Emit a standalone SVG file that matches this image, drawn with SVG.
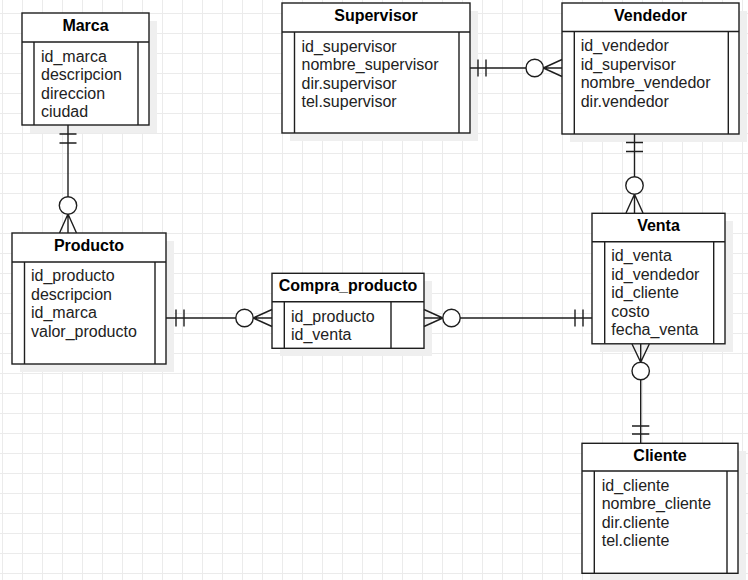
<svg xmlns="http://www.w3.org/2000/svg" width="748" height="580" viewBox="0 0 748 580">
<style>
.box{fill:#fff;stroke:#1e1e1e;stroke-width:1.4}
.ln{fill:none;stroke:#1e1e1e;stroke-width:1.4}
.sh{fill:#efefef}
.t{font-family:"Liberation Sans",Arial,sans-serif;font-size:16px;font-weight:bold;fill:#000;text-anchor:middle}
.a{font-family:"Liberation Sans",Arial,sans-serif;font-size:16px;fill:#222}
.c{fill:#fff;stroke:#1e1e1e;stroke-width:1.4}
</style>
<defs>
<pattern id="grid" x="2" y="13" width="20" height="20" patternUnits="userSpaceOnUse">
<path d="M0 0.5H20M0.5 0V20" fill="none" stroke="#ebebeb" stroke-width="1"/>
</pattern>
</defs>
<rect width="748" height="580" fill="#fff"/>
<rect width="748" height="580" fill="url(#grid)"/>

<g id="marca">
<rect class="sh" x="30" y="21" width="127" height="112"/>
<rect class="box" x="22" y="13" width="127" height="112"/>
<path class="ln" d="M22 42H149M34 42V125M138 42V125"/>
<text class="t" x="85.5" y="31">Marca</text>
<text class="a" x="41" y="61.5">id_marca</text>
<text class="a" x="41" y="80">descripcion</text>
<text class="a" x="41" y="98.5">direccion</text>
<text class="a" x="41" y="117">ciudad</text>
</g>

<g id="supervisor">
<rect class="sh" x="290" y="11" width="188" height="130"/>
<rect class="box" x="282" y="3" width="188" height="130"/>
<path class="ln" d="M282 32H470M294.5 32V133M459 32V133"/>
<text class="t" x="376" y="21">Supervisor</text>
<text class="a" x="301.5" y="51.5">id_supervisor</text>
<text class="a" x="301.5" y="70">nombre_supervisor</text>
<text class="a" x="301.5" y="88.5">dir.supervisor</text>
<text class="a" x="301.5" y="107">tel.supervisor</text>
</g>

<g id="vendedor">
<rect class="sh" x="570" y="11" width="177" height="131"/>
<rect class="box" x="562" y="3" width="177" height="131"/>
<path class="ln" d="M562 31.5H739M574.3 31.5V134M728.3 31.5V134"/>
<text class="t" x="650.5" y="21">Vendedor</text>
<text class="a" x="580.7" y="51">id_vendedor</text>
<text class="a" x="580.7" y="69.5">id_supervisor</text>
<text class="a" x="580.7" y="88">nombre_vendedor</text>
<text class="a" x="580.7" y="106.5">dir.vendedor</text>
</g>

<g id="producto">
<rect class="sh" x="20" y="241" width="154" height="131"/>
<rect class="box" x="12" y="233" width="154" height="131"/>
<path class="ln" d="M12 262H166M24.5 262V364M155 262V364"/>
<text class="t" x="89" y="251">Producto</text>
<text class="a" x="31" y="281">id_producto</text>
<text class="a" x="31" y="299.5">descripcion</text>
<text class="a" x="31" y="318">id_marca</text>
<text class="a" x="31" y="336.5">valor_producto</text>
</g>

<g id="compra_producto">
<rect class="sh" x="280" y="281" width="152" height="75"/>
<rect class="box" x="272" y="273.3" width="152" height="75"/>
<path class="ln" d="M272 301.7H424M284.3 301.7V348.3M391 301.7V348.3"/>
<text class="t" x="348" y="291">Compra_producto</text>
<text class="a" x="291" y="321.5">id_producto</text>
<text class="a" x="291" y="340">id_venta</text>
</g>

<g id="venta">
<rect class="sh" x="600" y="221" width="133" height="131"/>
<rect class="box" x="592" y="213.3" width="133" height="130.5"/>
<path class="ln" d="M592 241.7H725M604.7 241.7V343.8M713.7 241.7V343.8"/>
<text class="t" x="658.5" y="231">Venta</text>
<text class="a" x="611.3" y="261">id_venta</text>
<text class="a" x="611.3" y="279.5">id_vendedor</text>
<text class="a" x="611.3" y="298">id_cliente</text>
<text class="a" x="611.3" y="316.5">costo</text>
<text class="a" x="611.3" y="335">fecha_venta</text>
</g>

<g id="cliente">
<rect class="sh" x="590" y="451" width="156" height="130"/>
<rect class="box" x="582" y="443.3" width="156" height="130"/>
<path class="ln" d="M582 471H738M594.3 471V573.3M727 471V573.3"/>
<text class="t" x="660" y="461">Cliente</text>
<text class="a" x="601.7" y="490.5">id_cliente</text>
<text class="a" x="601.7" y="509">nombre_cliente</text>
<text class="a" x="601.7" y="527.5">dir.cliente</text>
<text class="a" x="601.7" y="546">tel.cliente</text>
</g>

<g id="connectors">
<!-- Marca - Producto -->
<path class="ln" d="M68 125V233M59.5 134H76.5M59.5 143H76.5M59.5 233L68 214M76.5 233L68 214"/>
<circle class="c" cx="68" cy="205.5" r="8.7"/>
<!-- Supervisor - Vendedor -->
<path class="ln" d="M470 68H562M478 59.5V76.5M486 59.5V76.5M562 59.5L543.4 68M562 76.5L543.4 68"/>
<circle class="c" cx="534.7" cy="68" r="8.7"/>
<!-- Vendedor - Venta -->
<path class="ln" d="M634.5 134V213M626 142.5H643M626 151.5H643M626 213L634.5 194.2M643 213L634.5 194.2"/>
<circle class="c" cx="634.5" cy="185.5" r="8.7"/>
<!-- Producto - Compra_producto -->
<path class="ln" d="M166 318H272M176 309.5V326.5M184 309.5V326.5M272 309.5L253.2 318M272 326.5L253.2 318"/>
<circle class="c" cx="244.5" cy="318" r="8.7"/>
<!-- Compra_producto - Venta -->
<path class="ln" d="M424 318H592M424 309.5L442.8 318M424 326.5L442.8 318M575 309.5V326.5M583 309.5V326.5"/>
<circle class="c" cx="451.5" cy="318" r="8.7"/>
<!-- Venta - Cliente -->
<path class="ln" d="M640.7 344V443M632 344L640.7 362.3M649.3 344L640.7 362.3M632 426H649.3M632 434H649.3"/>
<circle class="c" cx="640.7" cy="371" r="8.7"/>
</g>
</svg>
